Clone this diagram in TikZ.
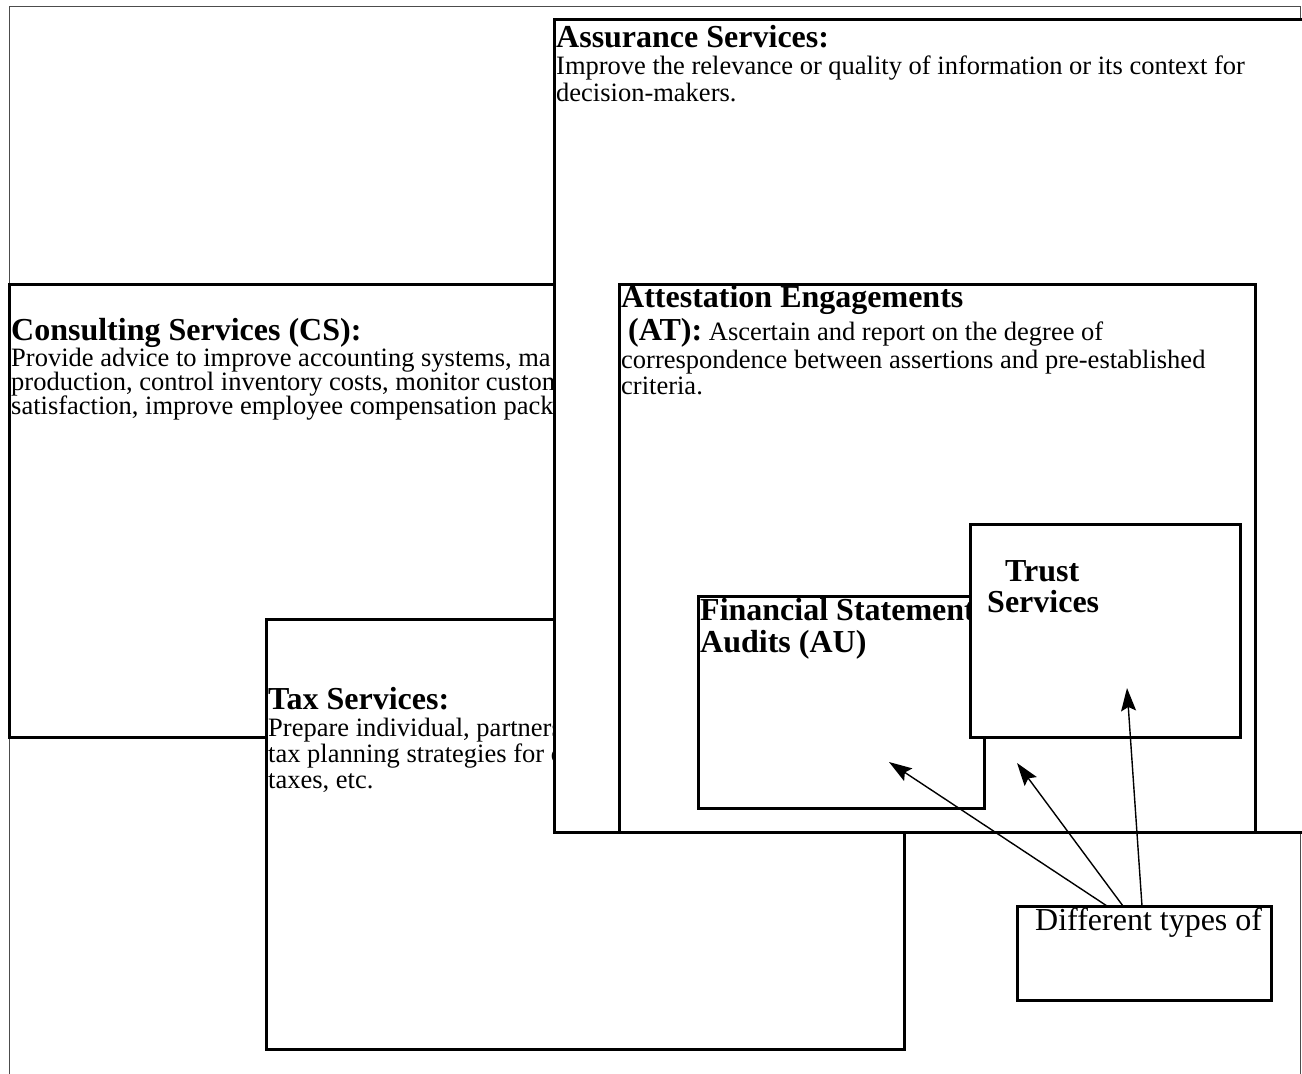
\documentclass[tikz,border=0pt]{standalone}
\usepackage{fontspec}
\setmainfont{Liberation Serif}
\usetikzlibrary{arrows.meta}
\newcommand\bodyf{\fontsize{26.5}{28}\selectfont}
\newcommand\headf{\bfseries\fontsize{32}{34}\selectfont}
\tikzset{
  box/.style={draw, line width=3pt, fill=white, rectangle, inner sep=0pt, outer sep=0pt, anchor=north west},
  frame/.style={draw=black!70, line width=1pt},
  body/.style={anchor=base west, inner sep=0pt, font=\bodyf},
  head/.style={anchor=base west, inner sep=0pt, font=\headf},
  pointer/.style={line width=1.4pt, -{Stealth[length=23pt,width=15pt,inset=4pt]}}
}
\begin{document}
\begin{tikzpicture}[x=1pt,y=-1pt]
\useasboundingbox (0,0) rectangle (1302,1074);
% outer frame
\node[frame, rectangle, inner sep=0pt, outer sep=0pt, anchor=north west, minimum width=1291pt, minimum height=1090pt] (outer) at (9,6) {};
% consulting
\node[box, minimum width=545pt, minimum height=453pt] (cs) at (9,284) {};
\node[head] (csh) at (11,340) {Consulting Services (CS):};
\node[body] (cs1) at (11,366) {Provide advice to improve accounting systems, ma};
\node[body] (cs2) at (11,390) {production, control inventory costs, monitor custom};
\node[body] (cs3) at (11,414) {satisfaction, improve employee compensation pack};
% tax
\node[box, minimum width=638pt, minimum height=430pt] (tax) at (266,619) {};
\node[head] (taxh) at (268,709) {Tax Services:};
\node[body] (tax1) at (268,736) {Prepare individual, partners};
\node[body] (tax2) at (268,762) {tax planning strategies for c};
\node[body] (tax3) at (268,788) {taxes, etc.};
% assurance
\node[box, minimum width=780pt, minimum height=813pt] (as) at (554,19) {};
\node[head] (ash) at (556,47) {Assurance Services:};
\node[body] (as1) at (556,74) {Improve the relevance or quality of information or its context for};
\node[body] (as2) at (556,101) {decision-makers.};
% attestation
\node[box, minimum width=636pt, minimum height=548pt] (at) at (619,284) {};
\node[head] (ath) at (621,307) {Attestation Engagements};
\node[body] (at1) at (621,340) {\hspace*{7pt}{\headf (AT):} Ascertain and report on the degree of};
\node[body] (at2) at (621,368) {correspondence between assertions and pre-established};
\node[body] (at3) at (621,394) {criteria.};
% financial statement audits
\node[box, minimum width=286pt, minimum height=212pt] (fin) at (698,596) {};
\node[head] (fin1) at (700,620) {Financial Statements};
\node[head] (fin2) at (700,652) {Audits (AU)};
% trust services
\node[box, minimum width=270pt, minimum height=213pt] (tr) at (970,524) {};
\node[head] (tr1) at (1005,581) {Trust};
\node[head] (tr2) at (987,612) {Services};
% different types
\node[box, minimum width=254pt, minimum height=94pt] (dt) at (1017,906) {};
\node[anchor=base west, inner sep=0pt, font=\fontsize{32}{34}\selectfont] (dtt) at (1035,930) {Different types of};
% arrows
\coordinate (s1) at (1107,906);
\coordinate (s2) at (1123,906);
\coordinate (s3) at (1142,906);
\coordinate (e1) at (889,762);
\coordinate (e2) at (1017,763);
\coordinate (e3) at (1127,688);
\draw[pointer] (s1) -- (e1);
\draw[pointer] (s2) -- (e2);
\draw[pointer] (s3) -- (e3);
\end{tikzpicture}
\end{document}
